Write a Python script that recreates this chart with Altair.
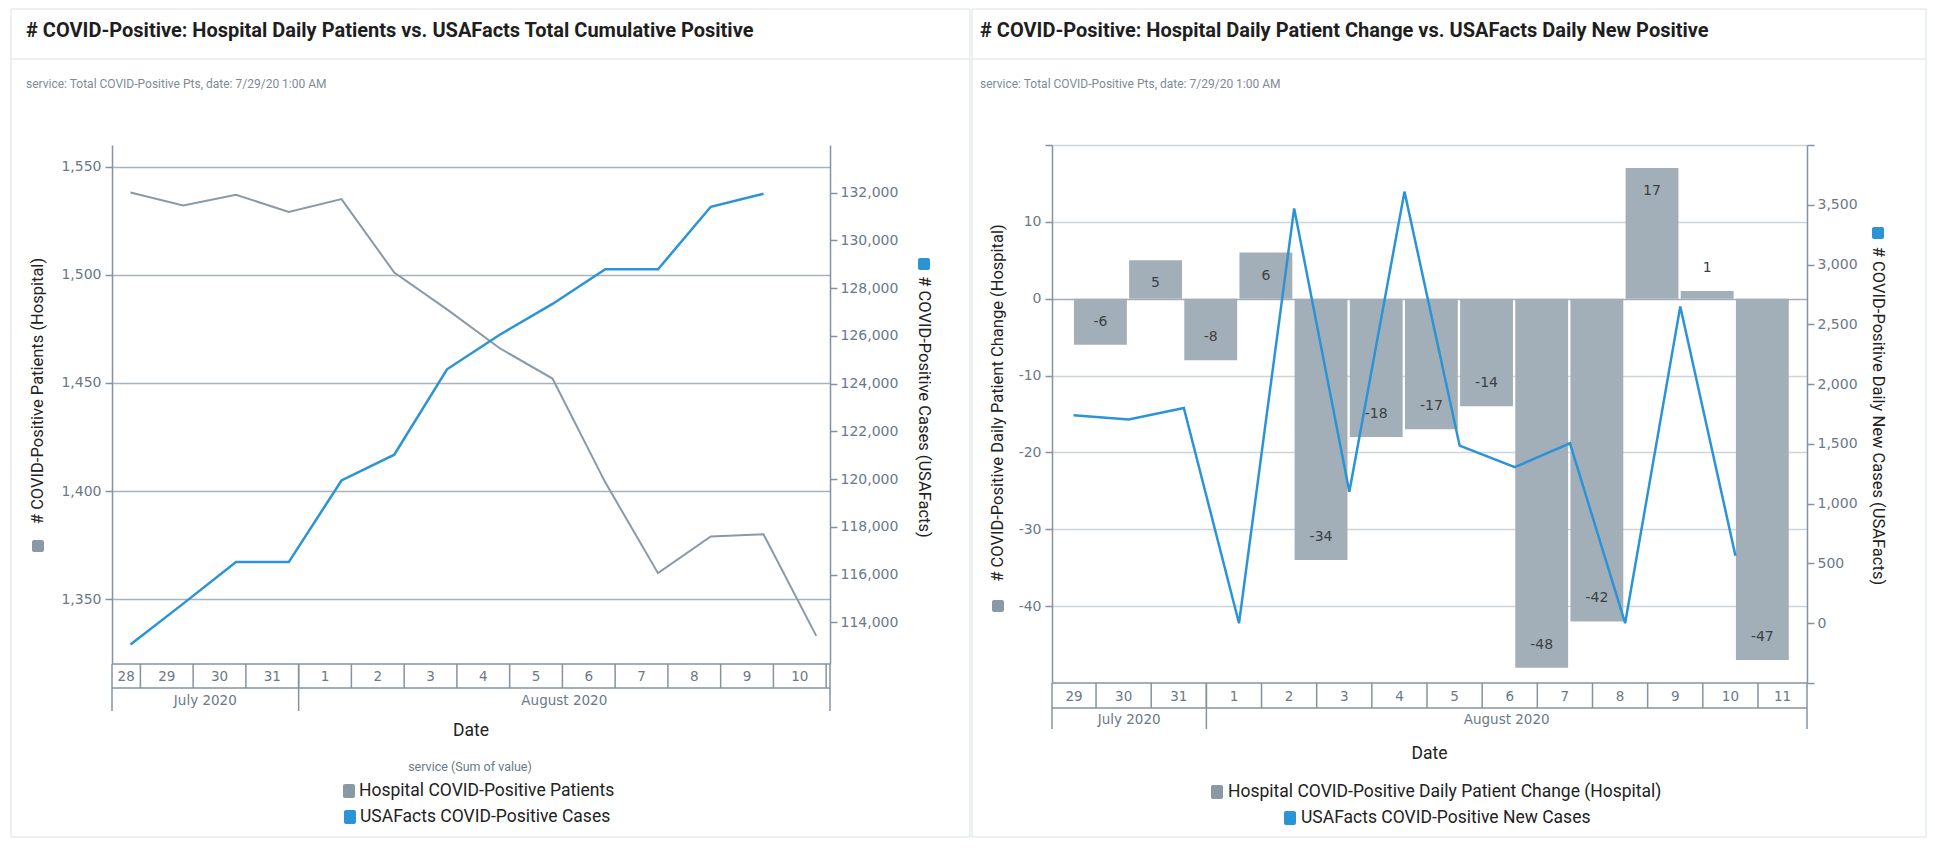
import altair as alt
import pandas as pd

# ---------------- data ----------------
LEFT_DATES = ["2020-07-28", "2020-07-29", "2020-07-30", "2020-07-31", "2020-08-01",
              "2020-08-02", "2020-08-03", "2020-08-04", "2020-08-05", "2020-08-06",
              "2020-08-07", "2020-08-08", "2020-08-09", "2020-08-10"]
HOSPITAL_PATIENTS = [1538, 1532, 1537, 1529, 1535, 1501, 1484, 1466, 1452, 1404,
                     1362, 1379, 1380, 1333]
USAFACTS_CUMULATIVE = [113070, 114780, 116520, 116520, 119940, 121020, 124600,
                       126050, 127340, 128790, 128790, 131410, 131960]

RIGHT_DATES = ["2020-07-29", "2020-07-30", "2020-07-31", "2020-08-01", "2020-08-02",
               "2020-08-03", "2020-08-04", "2020-08-05", "2020-08-06", "2020-08-07",
               "2020-08-08", "2020-08-09", "2020-08-10"]
HOSPITAL_DAILY_CHANGE = [-6, 5, -8, 6, -34, -18, -17, -14, -48, -42, 17, 1, -47]
USAFACTS_NEW_CASES = [1740, 1705, 1800, 0, 3470, 1100, 3610, 1485, 1305, 1505, 0, 2650, 565]

LEFT_Y_TICKS = [1350, 1400, 1450, 1500, 1550]
LEFT_Y2_TICKS = [114000, 116000, 118000, 120000, 122000, 124000, 126000, 128000, 130000, 132000]
RIGHT_Y_TICKS = [-40, -30, -20, -10, 0, 10, 20]
RIGHT_Y2_TICKS = [-500, 0, 500, 1000, 1500, 2000, 2500, 3000, 3500, 4000]

LEFT_TITLE = "# COVID-Positive: Hospital Daily Patients vs. USAFacts Total Cumulative Positive"
RIGHT_TITLE = "# COVID-Positive: Hospital Daily Patient Change vs. USAFacts Daily New Positive"
SUBTITLE = "service: Total COVID-Positive Pts, date: 7/29/20 1:00 AM"
LEFT_Y_TITLE = "# COVID-Positive Patients (Hospital)"
LEFT_Y2_TITLE = "# COVID-Positive Cases (USAFacts)"
RIGHT_Y_TITLE = "# COVID-Positive Daily Patient Change (Hospital)"
RIGHT_Y2_TITLE = "# COVID-Positive Daily New Cases (USAFacts)"
LEFT_LEGEND_TITLE = "service (Sum of value)"
LEFT_SERIES = ["Hospital COVID-Positive Patients", "USAFacts COVID-Positive Cases"]
RIGHT_SERIES = ["Hospital COVID-Positive Daily Patient Change (Hospital)",
                "USAFacts COVID-Positive New Cases"]

# ---------------- styles ----------------
FONT = "Roboto"
TICK_FONT = "DejaVu Sans"
C_GRAY_LINE = "#8a99a6"
C_BLUE = "#2a94d6"
C_BAR = "#a3afb8"
C_AXIS = "#8593a0"
C_LABEL = "#6a7987"
C_GRID_L = "#a9b3bc"
C_GRID_R = "#cdd4da"
C_CARD = "#d9e2ea"
C_TEXT = "#222222"
MINUS = "\u2212"

HOUR = 3600000
DAY = 24 * HOUR


def ms(s):
    return int(pd.Timestamp(s, tz="UTC").timestamp() * 1000)


def ms_naive(t):
    return int(t.value // 10**6)


LW, LH = 718, 519
RW, RH = 755, 538
L_DOMAIN = [ms("2020-07-28T11:05"), ms("2020-08-11T01:45")]
R_DOMAIN = [ms("2020-07-29T04:50"), ms("2020-08-11T21:20")]
L_POINT_H = 19.5
R_POINT_H = 14.2

ONE = pd.DataFrame({"k": [0]})


def xenc(field, dom):
    return alt.X(f"{field}:T", scale=alt.Scale(type="utc", domain=dom, nice=False), axis=None)


def txt(text, x, y, size=13, color=C_TEXT, align="center", weight="normal", angle=0, font=FONT):
    mk = dict(align=align, baseline="middle", fontSize=size, color=color,
              font=font, fontWeight=weight)
    if angle:
        mk["angle"] = angle
    return alt.Chart(pd.DataFrame({"t": [text]})).mark_text(**mk).encode(
        x=alt.value(x), y=alt.value(y), text="t:N")


def hrule(x1, x2, y, color=C_AXIS, width=1.5):
    return alt.Chart(ONE).mark_rule(color=color, strokeWidth=width).encode(
        x=alt.value(x1), x2=alt.value(x2), y=alt.value(y))


def vrule(x, y1, y2, color=C_AXIS, width=1.5):
    return alt.Chart(ONE).mark_rule(color=color, strokeWidth=width).encode(
        x=alt.value(x), y=alt.value(y1), y2=alt.value(y2))


def box(x1, x2, y1, y2, **kw):
    return alt.Chart(ONE).mark_rect(**kw).encode(
        x=alt.value(x1), x2=alt.value(x2), y=alt.value(y1), y2=alt.value(y2))


def day_cells(dom):
    start, end = dom
    d = (start // DAY) * DAY
    cells, bounds = [], []
    while d < end:
        s, e = max(d, start), min(d + DAY, end)
        if e - s >= 0.3 * DAY:
            cells.append({"mid": (s + e) / 2, "label": str(pd.Timestamp(d, unit="ms").day)})
        if d > start:
            bounds.append({"b": d})
        d += DAY
    return pd.DataFrame(cells), pd.DataFrame(bounds)


def month_cells(dom):
    start, end = dom
    t = pd.Timestamp(start, unit="ms").normalize().replace(day=1)
    cells, bounds = [], []
    while ms_naive(t) < end:
        nxt = t + pd.offsets.MonthBegin(1)
        s, e = max(ms_naive(t), start), min(ms_naive(nxt), end)
        cells.append({"mid": (s + e) / 2, "label": t.strftime("%B %Y")})
        if ms_naive(t) > start:
            bounds.append({"b": ms_naive(t)})
        t = nxt
    return pd.DataFrame(cells), pd.DataFrame(bounds)


def x_axis_cells(dom, W, H, r1, r2):
    dc, db = day_cells(dom)
    mc, mb = month_cells(dom)
    layers = [
        hrule(0, W, H),
        hrule(0, W, H + r1),
        vrule(0, H, H + r2),
        vrule(W, H, H + r2),
        alt.Chart(db).mark_rule(color=C_AXIS, strokeWidth=1.5).encode(
            x=xenc("b", dom), y=alt.value(H), y2=alt.value(H + r1)),
        alt.Chart(dc).mark_text(fontSize=13.5, color=C_LABEL, font=TICK_FONT,
                                baseline="middle").encode(
            x=xenc("mid", dom), y=alt.value(H + r1 / 2 + 1), text="label:N"),
        alt.Chart(mc).mark_text(fontSize=13.5, color=C_LABEL, font=TICK_FONT,
                                baseline="middle").encode(
            x=xenc("mid", dom), y=alt.value(H + (r1 + r2) / 2 + 1), text="label:N"),
    ]
    if len(mb):
        layers.append(alt.Chart(mb).mark_rule(color=C_AXIS, strokeWidth=1.5).encode(
            x=xenc("b", dom), y=alt.value(H), y2=alt.value(H + r2)))
    return layers


def yaxis(**kw):
    base = dict(format=",.0f", domainColor=C_AXIS, domainWidth=1.5, tickColor=C_AXIS,
                tickWidth=1.5, tickSize=7, labelPadding=4, labelColor=C_LABEL,
                labelFontSize=14, labelFont=TICK_FONT, title=None)
    base.update(kw)
    return alt.Axis(**base)


# ---------------- left panel ----------------
df_lp = pd.DataFrame({"ts": [ms(d) + int(L_POINT_H * HOUR) for d in LEFT_DATES],
                      "patients": HOSPITAL_PATIENTS})
df_lc = pd.DataFrame({"ts": [ms(d) + int(L_POINT_H * HOUR)
                             for d in LEFT_DATES[:len(USAFACTS_CUMULATIVE)]],
                      "cases": USAFACTS_CUMULATIVE})

gray_line = alt.Chart(df_lp).mark_line(color=C_GRAY_LINE, strokeWidth=2).encode(
    x=xenc("ts", L_DOMAIN),
    y=alt.Y("patients:Q", scale=alt.Scale(domain=[1320, 1560], nice=False, zero=False),
            axis=yaxis(values=LEFT_Y_TICKS, grid=True, gridColor=C_GRID_L, gridWidth=1.5)))
blue_cum = alt.Chart(df_lc).mark_line(color=C_BLUE, strokeWidth=2.5).encode(
    x=xenc("ts", L_DOMAIN),
    y=alt.Y("cases:Q", scale=alt.Scale(domain=[112250, 134000], nice=False, zero=False),
            axis=yaxis(values=LEFT_Y2_TICKS, orient="right", grid=False, labelPadding=3)))

AX_TITLE = 16.5
left_layers = [
    box(-101, 858, -136, 692, fillOpacity=0, stroke=C_CARD, strokeWidth=1),
    hrule(-101, 858, -86, color=C_CARD, width=1),
    txt(LEFT_TITLE, -86, -114, size=20, align="left", weight="bold", color="#1e1e1e"),
    txt(SUBTITLE, -86, -61, size=12, align="left", color="#7d8b97"),
    *x_axis_cells(L_DOMAIN, LW, LH, 24, 47),
    gray_line,
    blue_cum,
    txt(LEFT_Y_TITLE, -74, 246, size=AX_TITLE, angle=270),
    box(-80, -68, 395, 407, color=C_GRAY_LINE, cornerRadius=2),
    txt(LEFT_Y2_TITLE, 812, 262, size=AX_TITLE, angle=90),
    box(806, 818, 113, 125, color=C_BLUE, cornerRadius=2),
    txt("Date", LW / 2, LH + 67, size=17.5),
    txt(LEFT_LEGEND_TITLE, 358, 622, size=12.5, color=C_LABEL),
    box(231, 243, 639, 653, color=C_GRAY_LINE, cornerRadius=2),
    txt(LEFT_SERIES[0], 247, 646, size=17.5, align="left"),
    box(232, 244, 665, 679, color=C_BLUE, cornerRadius=2),
    txt(LEFT_SERIES[1], 248, 672, size=17.5, align="left"),
]
left_panel = alt.layer(*left_layers).resolve_scale(y="independent").properties(
    width=LW, height=LH)

# ---------------- right panel ----------------
r_ts = [ms(d) + int(R_POINT_H * HOUR) for d in RIGHT_DATES]
df_rb = pd.DataFrame({"ts": r_ts,
                      "bs": [t + int(0.2 * HOUR) for t in r_ts],
                      "be": [t + int(23.2 * HOUR) for t in r_ts],
                      "mid": [t + int(11.7 * HOUR) for t in r_ts],
                      "change": HOSPITAL_DAILY_CHANGE})
df_rn = pd.DataFrame({"ts": r_ts, "new": USAFACTS_NEW_CASES})

r_yscale = alt.Scale(domain=[-50, 20], nice=False, zero=False)
r_yaxis = yaxis(values=RIGHT_Y_TICKS, grid=True, gridWidth=1.5,
                gridColor={"condition": {"test": "datum.value === 0", "value": "#a3adb6"},
                           "value": C_GRID_R},
                labelExpr=f"datum.value >= 20 ? '' : replace(datum.label, '{MINUS}', '-')")
bars = alt.Chart(df_rb).mark_bar(color=C_BAR).encode(
    x=xenc("bs", R_DOMAIN), x2="be:T",
    y=alt.Y("change:Q", scale=r_yscale, axis=r_yaxis),
    y2=alt.datum(0))
bar_labels = alt.Chart(df_rb).transform_calculate(
    ly="datum.change >= 3 ? datum.change - 3 : datum.change + 3",
    lbl="'' + datum.change"
).mark_text(fontSize=14, color="#3a3f44", font=TICK_FONT, baseline="middle").encode(
    x=xenc("mid", R_DOMAIN),
    y=alt.Y("ly:Q", scale=r_yscale, axis=r_yaxis),
    text="lbl:N")
right_primary = alt.layer(bars, bar_labels)

blue_new = alt.Chart(df_rn).mark_line(color=C_BLUE, strokeWidth=2.5).encode(
    x=xenc("ts", R_DOMAIN),
    y=alt.Y("new:Q", scale=alt.Scale(domain=[-500, 4000], nice=False, zero=False),
            axis=yaxis(values=RIGHT_Y2_TICKS, orient="right", grid=False, labelPadding=3,
                       labelExpr="datum.value < 0 || datum.value > 3500 ? '' : datum.label")))

right_layers = [
    box(-80, 874, -136, 692, fillOpacity=0, stroke=C_CARD, strokeWidth=1),
    hrule(-80, 874, -86, color=C_CARD, width=1),
    txt(RIGHT_TITLE, -72, -114, size=20, align="left", weight="bold", color="#1e1e1e"),
    txt(SUBTITLE, -72, -61, size=12, align="left", color="#7d8b97"),
    right_primary,
    *x_axis_cells(R_DOMAIN, RW, RH, 25, 46),
    blue_new,
    txt(RIGHT_Y_TITLE, -54, 258, size=AX_TITLE, angle=270),
    box(-60, -48, 455, 467, color=C_GRAY_LINE, cornerRadius=2),
    txt(RIGHT_Y2_TITLE, 826, 271, size=AX_TITLE, angle=90),
    box(820, 832, 82, 94, color=C_BLUE, cornerRadius=2),
    txt("Date", RW / 2, RH + 71, size=17.5),
    box(159, 171, 640, 654, color=C_GRAY_LINE, cornerRadius=2),
    txt(RIGHT_SERIES[0], 176, 647, size=17.5, align="left"),
    box(232, 244, 666, 680, color=C_BLUE, cornerRadius=2),
    txt(RIGHT_SERIES[1], 249, 673, size=17.5, align="left"),
]
right_panel = alt.layer(*right_layers).resolve_scale(y="independent").properties(
    width=RW, height=RH)

chart = alt.hconcat(left_panel, right_panel, spacing=222, bounds="flush").properties(
    padding={"left": 2, "top": 0, "right": 0, "bottom": 0}
).configure_view(strokeWidth=0)

chart.save("out.html", embed_options={"renderer": "svg", "actions": False})
